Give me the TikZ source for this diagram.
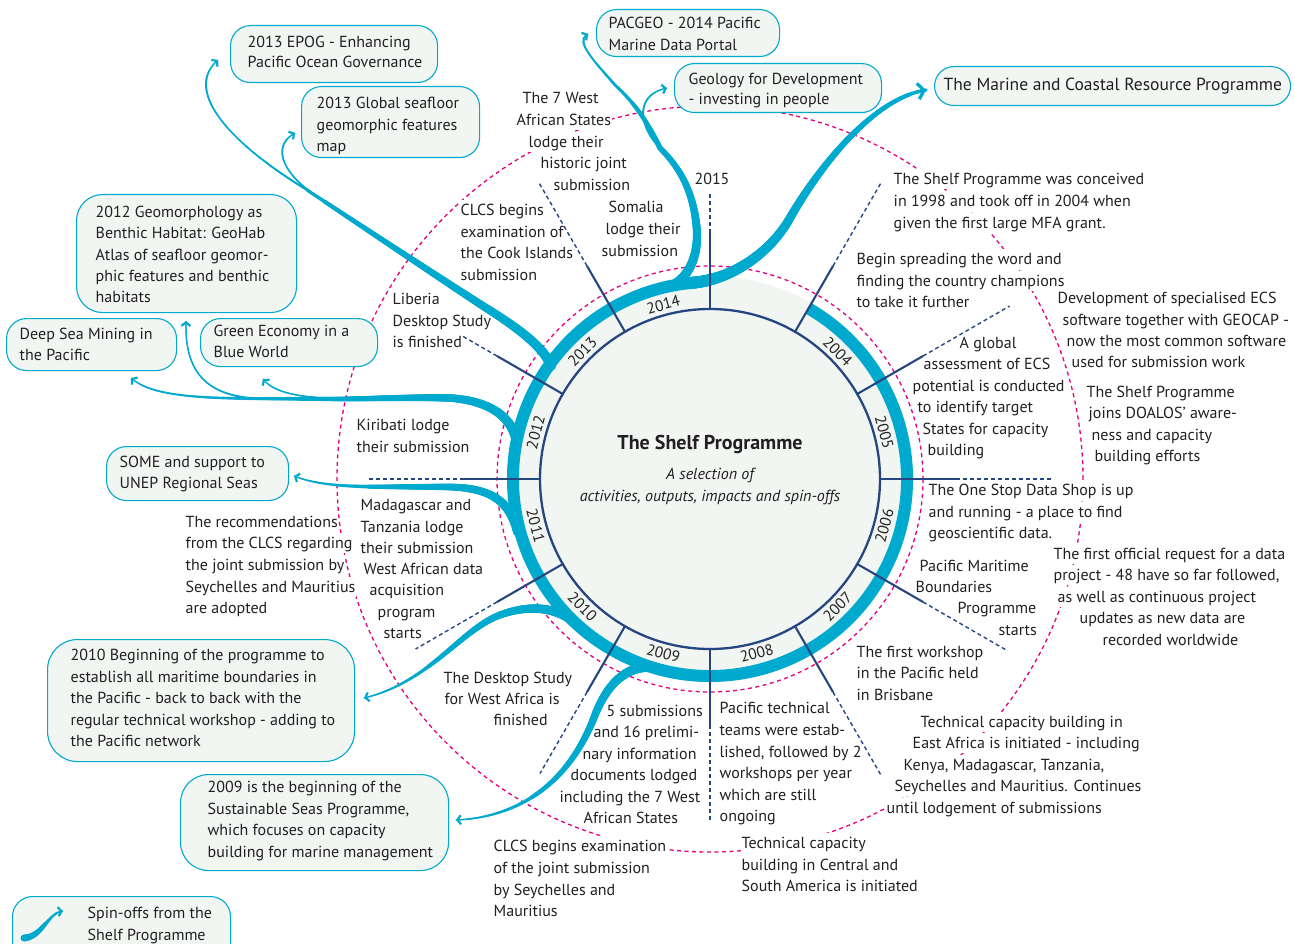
\documentclass[tikz,border=0pt]{standalone}
\usepackage{fontspec}
\setmainfont{PT Sans}
\usetikzlibrary{arrows.meta,decorations.markings,calc}
\definecolor{cyanc}{RGB}{0,169,206}
\definecolor{navy}{RGB}{38,70,128}
\definecolor{mag}{RGB}{230,0,126}
\definecolor{boxfill}{RGB}{242,246,243}
\definecolor{txt}{RGB}{35,31,32}
\newcounter{lc}
\newcommand\fs{\fontsize{16}{21.5}\selectfont}
\newcommand\LL[3]{\stepcounter{lc}\node[ln] (l\thelc) at (#1,#2) {#3};}
\newcommand\BL[3]{\stepcounter{lc}\node[bl] (l\thelc) at (#1,#2) {#3};}
\newcommand\spath[3]{\path[taper={#1}{#2}] #3; \draw[tip] #3;}
\newcommand\tpath[3]{\path[taper={#1}{#2}] #3;}
\tikzset{
 ln/.style={anchor=west, inner xsep=0.5pt, inner ysep=0pt, text height=15.5pt, text depth=4.5pt, fill=white, font=\fs, text=txt},
 bl/.style={ln, fill=none},
 spin/.style={draw=cyanc, fill=boxfill, line width=1.1pt, rounded corners=20pt},
 taper/.style 2 args={decoration={markings, mark=between positions 0 and 1 step 0.8pt with {\pgfmathsetmacro\rr{0.5*(#1-(#1-#2)*\pgfkeysvalueof{/pgf/decoration/mark info/distance from start}/\pgfdecoratedpathlength)}\fill[cyanc] (0,0) circle[radius=\rr pt];}}, decorate},
 tip/.style={draw=cyanc, line width=1.2pt, -{Straight Barb[length=3.5pt,width=9pt,line width=2.2pt]}},
 bigtip/.style={draw=cyanc, line width=2pt, -{Straight Barb[length=6pt,width=16pt,line width=3.2pt]}},
 tick/.style={navy, line width=2.1pt},
 dtick/.style={navy, line width=1.4pt, dash pattern=on 4pt off 3pt},
 mdash/.style={mag, line width=1.3pt, dash pattern=on 4pt off 3.5pt},
}
\begin{document}
\begin{tikzpicture}[x=1pt,y=-1pt]
\useasboundingbox (0,0) rectangle (1295,944);
\fill[white] (0,0) rectangle (1295,944);
\coordinate (C) at (710,479);
% dashed magenta circles
\draw[mdash] (C) circle[radius=373];
\draw[mdash] (C) circle[radius=213];
% ---- labels around the circle
\LL{522}{98}{The 7 West}
\LL{516}{120}{African States}
\LL{528}{142}{lodge their}
\LL{540}{163}{historic joint}
\LL{553}{185}{submission}
\LL{460}{210}{CLCS begins}
\LL{460}{232}{examination of}
\LL{460}{253}{the Cook Islands}
\LL{460}{275}{submission}
\LL{608}{207}{Somalia}
\LL{605}{229}{lodge their}
\LL{601}{251}{submission}
\LL{392}{299}{Liberia}
\LL{392}{321}{Desktop Study}
\LL{392}{342}{is finished}
\LL{356}{425}{Kiribati lodge}
\LL{356}{447}{their submission}
\LL{893}{179}{The Shelf Programme was conceived}
\LL{893}{201}{in 1998 and took off in 2004 when}
\LL{893}{223}{given the first large MFA grant.}
\LL{856}{259}{Begin spreading the word and}
\LL{856}{281}{finding the country champions}
\LL{856}{302}{to take it further}
\LL{959}{343}{A global}
\LL{923}{364}{assessment of ECS}
\LL{912}{386}{potential is conducted}
\LL{917}{407}{to identify target}
\LL{922}{429}{States for capacity}
\LL{927}{450}{building}
\LL{1057}{298}{Development of specialised ECS}
\LL{1062}{320}{software together with GEOCAP -}
\LL{1066}{341}{now the most common software}
\LL{1071}{362}{used for submission work}
\LL{1086}{392}{The Shelf Programme}
\LL{1088}{413}{joins DOALOS’ aware-}
\LL{1091}{435}{ness and capacity}
\LL{1094}{456}{building efforts}
\LL{928}{490}{The One Stop Data Shop is up}
\LL{928}{512}{and running - a place to find}
\LL{928}{533}{geoscientific data.}
\LL{1053}{554}{The first official request for a data}
\LL{1053}{575}{project - 48 have so far followed,}
\LL{1057}{597}{as well as continuous project}
\LL{1079}{618}{updates as new data are}
\LL{1102}{640}{recorded worldwide}
\LL{919}{566}{Pacific Maritime}
\LL{915}{587}{Boundaries}
\LL{957}{608}{Programme}
\LL{998}{630}{starts}
\LL{856}{652}{The first workshop}
\LL{856}{673}{in the Pacific held}
\LL{856}{695}{in Brisbane}
\LL{920}{722}{Technical capacity building in}
\LL{912}{743}{East Africa is initiated - including}
\LL{903}{765}{Kenya, Madagascar, Tanzania,}
\LL{894}{786}{Seychelles and Mauritius. Continues}
\LL{886}{808}{until lodgement of submissions}
\LL{719}{708}{Pacific technical}
\LL{719}{730}{teams were estab-}
\LL{719}{752}{lished, followed by 2}
\LL{719}{773}{workshops per year}
\LL{719}{795}{which are still}
\LL{719}{816}{ongoing}
\LL{741}{843}{Technical capacity}
\LL{741}{865}{building in Central and}
\LL{741}{886}{South America is initiated}
\LL{493}{846}{CLCS begins examination}
\LL{493}{868}{of the joint submission}
\LL{493}{890}{by Seychelles and}
\LL{493}{911}{Mauritius}
\LL{606}{711}{5 submissions}
\LL{593}{732}{and 16 prelimi-}
\LL{582}{754}{nary information}
\LL{570}{775}{documents lodged}
\LL{559}{797}{including the 7 West}
\LL{583}{818}{African States}
\LL{443}{678}{The Desktop Study}
\LL{444}{699}{for West Africa is}
\LL{493}{720}{finished}
\LL{360}{505}{Madagascar and}
\LL{360}{527}{Tanzania lodge}
\LL{360}{548}{their submission}
\LL{363}{569}{West African data}
\LL{369}{590}{acquisition}
\LL{377}{612}{program}
\LL{383}{633}{starts}
\LL{185}{522}{The recommendations}
\LL{185}{543}{from the CLCS regarding}
\LL{185}{565}{the joint submission by}
\LL{185}{587}{Seychelles and Mauritius}
\LL{185}{608}{are adopted}
\node[font=\fs, text=txt] (y2015) at (712,179) {2015};
% ---- disc and ring
\fill[boxfill] (C) circle[radius=203];
\draw[cyanc, line width=12pt] ($(C)+(-60:197)$) arc[start angle=-60, end angle=265, radius=197];
% ---- spin-off connectors
\coordinate (jTop) at (660,148);
\coordinate (jEP) at (307,190);
\coordinate (jL) at (333,399);
\tpath{10}{5.5}{(670,287) .. controls (692,276) and (700,250) .. (696,222) .. controls (692,190) and (680,168) .. (jTop)}
\spath{5.5}{1.4}{(jTop) .. controls (650,128) and (640,108) .. (615,85) .. controls (595,62) and (575,42) .. (588,34)}
\spath{2.5}{1.3}{(jTop) .. controls (640,128) and (633,96) .. (667,88)}
\path[taper={12}{3.5}] (692.8,282.7) .. controls (735,279) and (772,250) .. (790,218) .. controls (808,186) and (865,100) .. (926,90);
\draw[bigtip] (692.8,282.7) .. controls (735,279) and (772,250) .. (790,218) .. controls (808,186) and (865,100) .. (926,90);
\tpath{10}{3.5}{(551,366) .. controls (545,350) and (525,332) .. (483,306) .. controls (420,265) and (360,225) .. (jEP)}
\spath{2.5}{1.3}{(jEP) .. controls (225,140) and (185,90) .. (218,60)}
\spath{2.2}{1.3}{(318,197) .. controls (285,176) and (270,148) .. (295,133)}
\tpath{10}{4.5}{(517,442) .. controls (512,418) and (492,401) .. (450,398) .. controls (410,397) and (370,399) .. (jL)}
\spath{4.5}{1.3}{(jL) .. controls (230,398) and (160,402) .. (131,378)}
\spath{2.2}{1.3}{(345,399) .. controls (300,398) and (275,393) .. (263,379)}
\spath{2.2}{1.3}{(250,398) .. controls (200,393) and (185,365) .. (186,321)}
\spath{10}{1.3}{(518,532) .. controls (510,502) and (492,488) .. (450,487) .. controls (380,486) and (330,490) .. (294,476)}
\spath{10}{1.3}{(572,620) .. controls (555,608) and (530,604) .. (500,615) .. controls (460,630) and (430,682) .. (364,698)}
\spath{10}{1.3}{(645,667) .. controls (620,670) and (605,690) .. (595,715) .. controls (578,760) and (540,816) .. (456,820)}
% ---- navy circle and ticks
\draw[navy, line width=2.3pt] (C) circle[radius=170];
\foreach \a/\d in {0/343,30/346,60/342,90/287,120/343,150/285,180/342,210/340,240/340,270/341,300/341,330/344}{
  \coordinate (ti\a) at ($(C)+(-\a:169)$);
  \coordinate (tm\a) at ($(C)+(-\a:246)$);
  \coordinate (to\a) at ($(C)+(-\a:\d)$);
  \draw[dtick] (tm\a) -- (to\a);
  \draw[tick] (ti\a) -- (tm\a);
}
% ---- years
\foreach \yr/\a in {2004/45,2005/15,2006/-15,2007/-45,2008/-75,2009/-105,2010/-135,2011/-165,2012/165,2013/135,2014/105}{
  \pgfmathsetmacro\rot{\a>0 ? \a-90 : \a+90}
  \node[font=\fontsize{15.5}{18}\selectfont, text=txt, rotate=\rot, inner sep=0pt] (yr\yr) at ($(C)+(-\a:180.5)$) {\yr};
}
% ---- centre
\node[font=\fontsize{20}{24}\selectfont\bfseries, text=txt] (title) at (710,444) {The Shelf Programme};
\node[font=\fs\itshape, text=txt] (sub1) at (710,475) {A selection of};
\node[font=\fs\itshape, text=txt] (sub2) at (710,497) {activities, outputs, impacts and spin-offs};
% ---- spin-off boxes
\node[spin, anchor=north west, minimum width=207, minimum height=57] (bEPOG) at (230,25) {};
\node[spin, anchor=north west, minimum width=178, minimum height=71] (bGlob) at (301,86) {};
\node[spin, anchor=north west, minimum width=220, minimum height=118, rounded corners=26pt] (bGeom) at (76,194) {};
\node[spin, anchor=north west, minimum width=170, minimum height=52] (bDeep) at (6,318) {};
\node[spin, anchor=north west, minimum width=177, minimum height=48] (bGreen) at (200,318) {};
\node[spin, anchor=north west, minimum width=182, minimum height=54] (bSOME) at (106,446) {};
\node[spin, anchor=north west, minimum width=307, minimum height=122, rounded corners=30pt] (b2010) at (47,639) {};
\node[spin, anchor=north west, minimum width=268, minimum height=96, rounded corners=28pt] (b2009) at (180,774) {};
\node[spin, anchor=north west, minimum width=218, minimum height=70] (bLeg) at (12,896) {};
\node[spin, anchor=north west, minimum width=183, minimum height=47] (bPAC) at (596,9) {};
\node[spin, anchor=north west, minimum width=207, minimum height=49] (bGeo) at (674,63) {};
\node[spin, anchor=north west, minimum width=356, minimum height=39, rounded corners=19.5pt] (bMar) at (934,66) {};
\BL{247}{42}{2013 EPOG - Enhancing}
\BL{247}{62}{Pacific Ocean Governance}
\BL{316}{103}{2013 Global seafloor}
\BL{316}{125}{geomorphic features}
\BL{316}{146}{map}
\BL{95}{212}{2012 Geomorphology as}
\BL{95}{233}{Benthic Habitat: GeoHab}
\BL{95}{255}{Atlas of seafloor geomor-}
\BL{95}{276}{phic features and benthic}
\BL{95}{297}{habitats}
\BL{19}{334}{Deep Sea Mining in}
\BL{19}{355}{the Pacific}
\BL{213}{331}{Green Economy in a}
\BL{213}{352}{Blue World}
\BL{119}{462}{SOME and support to}
\BL{119}{483}{UNEP Regional Seas}
\BL{70}{655}{2010 Beginning of the programme to}
\BL{70}{677}{establish all maritime boundaries in}
\BL{70}{698}{the Pacific - back to back with the}
\BL{70}{720}{regular technical workshop - adding to}
\BL{70}{741}{the Pacific network}
\BL{207}{787}{2009 is the beginning of the}
\BL{207}{809}{Sustainable Seas Programme,}
\BL{207}{830}{which focuses on capacity}
\BL{207}{852}{building for marine management}
\BL{87}{913}{Spin-offs from the}
\BL{87}{935}{Shelf Programme}
\BL{608}{23}{PACGEO - 2014 Pacific}
\BL{608}{45}{Marine Data Portal}
\BL{688}{79}{Geology for Development}
\BL{688}{99}{- investing in people}
\node[bl, font=\fontsize{17.5}{21}\selectfont] (tMar) at (943,85) {The Marine and Coastal Resource Programme};
% legend icon
\spath{7}{1.5}{(24,938) .. controls (42,937) and (48,913) .. (63,911)}
\end{tikzpicture}
\end{document}
